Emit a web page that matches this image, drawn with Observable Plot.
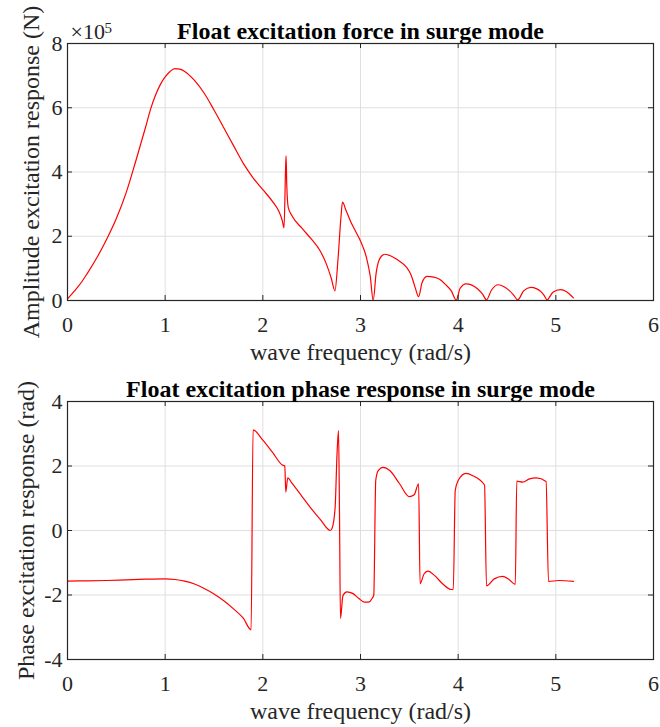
<!DOCTYPE html>
<html>
<head>
<meta charset="utf-8">
<script src="https://cdn.jsdelivr.net/npm/d3@7"></script>
<script src="https://cdn.jsdelivr.net/npm/@observablehq/plot@0.6"></script>
<style>
  body { margin: 0; background: #ffffff; }
  #chart { width: 660px; height: 727px; overflow: hidden; }
  #chart svg { display: block; }
</style>
</head>
<body>
<div id="chart"></div>
<script>
// ---------- data ----------
const xTicks = [0, 1, 2, 3, 4, 5, 6];
const ampTicks = [0, 2, 4, 6, 8];          // ×10^5 N
const phaseTicks = [-4, -2, 0, 2, 4];      // rad

const titleAmp = "Float excitation force in surge mode";
const titlePhase = "Float excitation phase response in surge mode";
const xLabel = "wave frequency (rad/s)";
const yLabelAmp = "Amplitude excitation response (N)";
const yLabelPhase = "Phase excitation response (rad)";
const ampExponentBase = "×10";
const ampExponent = "5";

// amplitude (in units of 10^5 N)
const ampFreq = [0.00, 0.05, 0.10, 0.15, 0.20, 0.30, 0.40, 0.50, 0.60, 0.70, 0.80, 0.85, 0.90, 0.95, 1.00, 1.05, 1.10, 1.15, 1.20, 1.30, 1.40, 1.50,
  1.60, 1.70, 1.80, 1.90, 2.00, 2.10, 2.16, 2.20, 2.217, 2.232, 2.238, 2.245, 2.26, 2.30, 2.40, 2.50, 2.58, 2.65, 2.70, 2.738,
  2.77, 2.80, 2.816, 2.85, 2.90, 2.95, 3.00, 3.06, 3.10, 3.13, 3.16, 3.20, 3.25, 3.30, 3.40, 3.47, 3.52, 3.56, 3.595, 3.63,
  3.68, 3.75, 3.81, 3.87, 3.93, 3.98, 4.02, 4.08, 4.14, 4.20, 4.25, 4.29, 4.34, 4.41, 4.47, 4.53, 4.57, 4.61, 4.67, 4.745,
  4.80, 4.85, 4.88, 4.91, 4.97, 5.05, 5.11, 5.18];
const ampValue = [0.05, 0.22, 0.40, 0.60, 0.83, 1.33, 1.90, 2.55, 3.35, 4.35, 5.40, 5.95, 6.38, 6.72, 6.96, 7.13, 7.22, 7.20, 7.13, 6.85, 6.45, 5.93,
  5.38, 4.82, 4.27, 3.82, 3.45, 3.08, 2.80, 2.48, 2.26, 4.00, 4.50, 3.60, 2.90, 2.63, 2.25, 1.90, 1.58, 1.14, 0.70, 0.30,
  1.30, 2.60, 3.06, 2.82, 2.45, 2.15, 1.85, 1.35, 0.75, 0.00, 0.85, 1.32, 1.44, 1.40, 1.22, 1.04, 0.78, 0.40, 0.12, 0.55,
  0.75, 0.73, 0.66, 0.50, 0.30, 0.01, 0.38, 0.52, 0.48, 0.36, 0.20, 0.02, 0.32, 0.49, 0.43, 0.29, 0.16, 0.02, 0.30, 0.41,
  0.37, 0.27, 0.16, 0.02, 0.26, 0.34, 0.27, 0.08];

// phase (rad)
const phaseFreq = [0.00, 0.20, 0.40, 0.60, 0.80, 1.00, 1.10, 1.20, 1.30, 1.40, 1.50, 1.60, 1.70, 1.80, 1.88, 1.90, 2.00, 2.10, 2.20, 2.225,
  2.235, 2.255, 2.30, 2.40, 2.50, 2.60, 2.66, 2.69, 2.71, 2.74, 2.76, 2.775, 2.785, 2.795, 2.82, 2.86, 2.92, 2.98, 3.04, 3.08,
  3.12, 3.136, 3.156, 3.18, 3.23, 3.30, 3.40, 3.50, 3.55, 3.595, 3.61, 3.65, 3.69, 3.76, 3.84, 3.93, 3.95, 3.97, 4.00, 4.08,
  4.15, 4.27, 4.29, 4.37, 4.455, 4.52, 4.585, 4.60, 4.66, 4.73, 4.80, 4.90, 4.925, 5.03, 5.18];
const phaseValue = [-1.57, -1.56, -1.55, -1.53, -1.51, -1.50, -1.52, -1.57, -1.66, -1.80, -1.97, -2.18, -2.43, -2.72, -3.08, 3.12, 2.80, 2.42, 2.03, 2.00,
  1.19, 1.63, 1.46, 1.06, 0.66, 0.30, 0.06, 0.00, 0.08, 0.70, 2.40, 3.10, 0.50, -2.73, -2.02, -1.90, -1.95, -2.10, -2.22, -2.22,
  -2.10, -2.00, 1.55, 1.85, 1.96, 1.86, 1.45, 1.05, 1.11, 1.45, -1.65, -1.35, -1.26, -1.40, -1.65, -1.83, -1.83, 1.24, 1.55, 1.77,
  1.70, 1.41, -1.72, -1.50, -1.42, -1.52, -1.67, 1.53, 1.50, 1.60, 1.63, 1.52, -1.58, -1.55, -1.58];

// ---------- drawing ----------
const FONT = "'Liberation Serif', 'Times New Roman', Times, serif";
const AXIS = "#262626";
const GRID = "#dfdfdf";
const W = 660, ML = 67, MR = 7;

function panel({freq, values, yDomain, yTicks, height, marginTop, marginBottom, title, yLabel, yLabelDx, extra = []}) {
  const data = freq.map((f, i) => ({f, v: values[i]}));
  const fw = W - ML - MR;
  const fh = height - marginTop - marginBottom;
  return Plot.plot({
    width: W,
    height,
    marginLeft: ML,
    marginRight: MR,
    marginTop,
    marginBottom,
    style: {fontFamily: FONT, background: "#ffffff", overflow: "visible"},
    x: {domain: [0, 6]},
    y: {domain: yDomain},
    marks: [
      Plot.gridX(xTicks, {stroke: GRID, strokeOpacity: 1, strokeWidth: 1}),
      Plot.gridY(yTicks, {stroke: GRID, strokeOpacity: 1, strokeWidth: 1}),
      Plot.line(data, {x: "f", y: "v", stroke: "#ff0000", strokeWidth: 1.2, curve: "monotone-x"}),
      Plot.tickX(xTicks, {x: d => d, insetTop: fh - 5, stroke: AXIS}),
      Plot.tickX(xTicks, {x: d => d, insetBottom: fh - 5, stroke: AXIS}),
      Plot.tickY(yTicks, {y: d => d, insetRight: fw - 5, stroke: AXIS}),
      Plot.tickY(yTicks, {y: d => d, insetLeft: fw - 5, stroke: AXIS}),
      Plot.frame({stroke: AXIS, strokeWidth: 1.2}),
      Plot.axisX(xTicks, {tickSize: 0, tickPadding: 16, fontSize: 22, fill: AXIS, label: null, tickFormat: d => String(d)}),
      Plot.axisY(yTicks, {tickSize: 0, tickPadding: 5, fontSize: 22, fill: AXIS, label: null, tickFormat: d => String(d)}),
      Plot.text([title], {frameAnchor: "top", dy: -5, lineAnchor: "bottom", textAnchor: "middle", fontWeight: "bold", fontSize: 24, fill: "#000000"}),
      Plot.text([xLabel], {frameAnchor: "bottom", dy: 59, lineAnchor: "bottom", textAnchor: "middle", fontSize: 24, fill: AXIS}),
      Plot.text([yLabel], {frameAnchor: "left", dx: yLabelDx, rotate: -90, lineAnchor: "bottom", textAnchor: "middle", fontSize: 24, fill: AXIS}),
      ...extra
    ]
  });
}

const ampPlot = panel({
  freq: ampFreq, values: ampValue, yDomain: [0, 8], yTicks: ampTicks,
  height: 365, marginTop: 43, marginBottom: 65,
  title: titleAmp, yLabel: yLabelAmp, yLabelDx: -29,
  extra: [
    Plot.text([ampExponentBase], {frameAnchor: "top-left", dx: 3, dy: -5, lineAnchor: "bottom", textAnchor: "start", fontSize: 22, fill: AXIS}),
    Plot.text([ampExponent], {frameAnchor: "top-left", dx: 37, dy: -11, lineAnchor: "bottom", textAnchor: "start", fontSize: 15, fill: AXIS})
  ]
});

const phasePlot = panel({
  freq: phaseFreq, values: phaseValue, yDomain: [-4, 4], yTicks: phaseTicks,
  height: 362, marginTop: 36, marginBottom: 68,
  title: titlePhase, yLabel: yLabelPhase, yLabelDx: -34
});

const chartEl = document.getElementById("chart");
chartEl.appendChild(ampPlot);
chartEl.appendChild(phasePlot);
</script>
</body>
</html>
